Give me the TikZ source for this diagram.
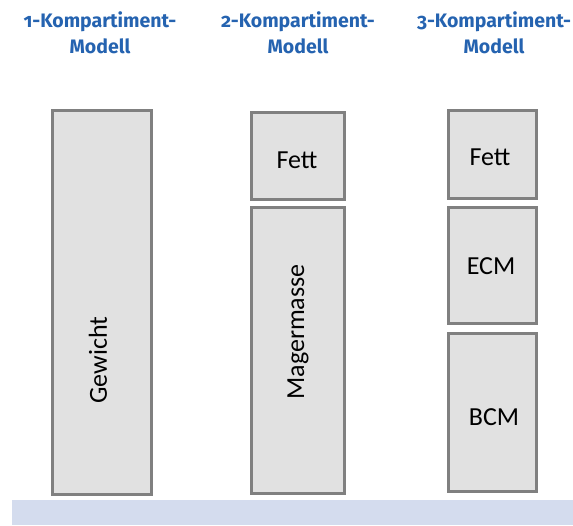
\documentclass[tikz,border=0pt]{standalone}
\usepackage{fontspec}
\setmainfont{Carlito}
\newfontfamily\headfont[Numbers=OldStyle]{Fira Sans}
\definecolor{headblue}{HTML}{2563B0}
\definecolor{boxgray}{HTML}{808080}
\definecolor{boxfill}{HTML}{E1E1E1}
\definecolor{bandblue}{HTML}{D4DCEE}
\begin{document}
\begin{tikzpicture}[x=1pt,y=-1pt,
  comp/.style={draw=boxgray,fill=boxfill,line width=3pt},
  lbl/.style={font=\fontsize{26}{28}\selectfont,text=black},
  head/.style={font=\headfont\bfseries\fontsize{19.5}{26}\selectfont,text=headblue,align=center}]
\useasboundingbox (0,0) rectangle (573,525);
\fill[bandblue] (12,500) rectangle (573,525);
\node[head] (h1) at (100,33) {1-Kompartiment-\\Modell};
\node[head] (h2) at (298,33) {2-Kompartiment-\\Modell};
\node[head] (h3) at (494,33) {3-Kompartiment-\\Modell};
% 1
\draw[comp] (52,110) rectangle (151,494);
\node[lbl,rotate=90] (gew) at (98,360) {Gewicht};
% 2
\draw[comp] (251,112) rectangle (344,199);
\node[lbl] (fett2) at (297,160) {Fett};
\draw[comp] (251,207) rectangle (344,493);
\node[lbl,rotate=90] (mager) at (298,332) {Magermasse};
% 3
\draw[comp] (448,110) rectangle (536,198);
\node[lbl] (fett3) at (490,157) {Fett};
\draw[comp] (448,207) rectangle (536,323);
\node[lbl] (ecm) at (491,266) {ECM};
\draw[comp] (448,333) rectangle (536,491);
\node[lbl] (bcm) at (494,417) {BCM};
\end{tikzpicture}
\end{document}
